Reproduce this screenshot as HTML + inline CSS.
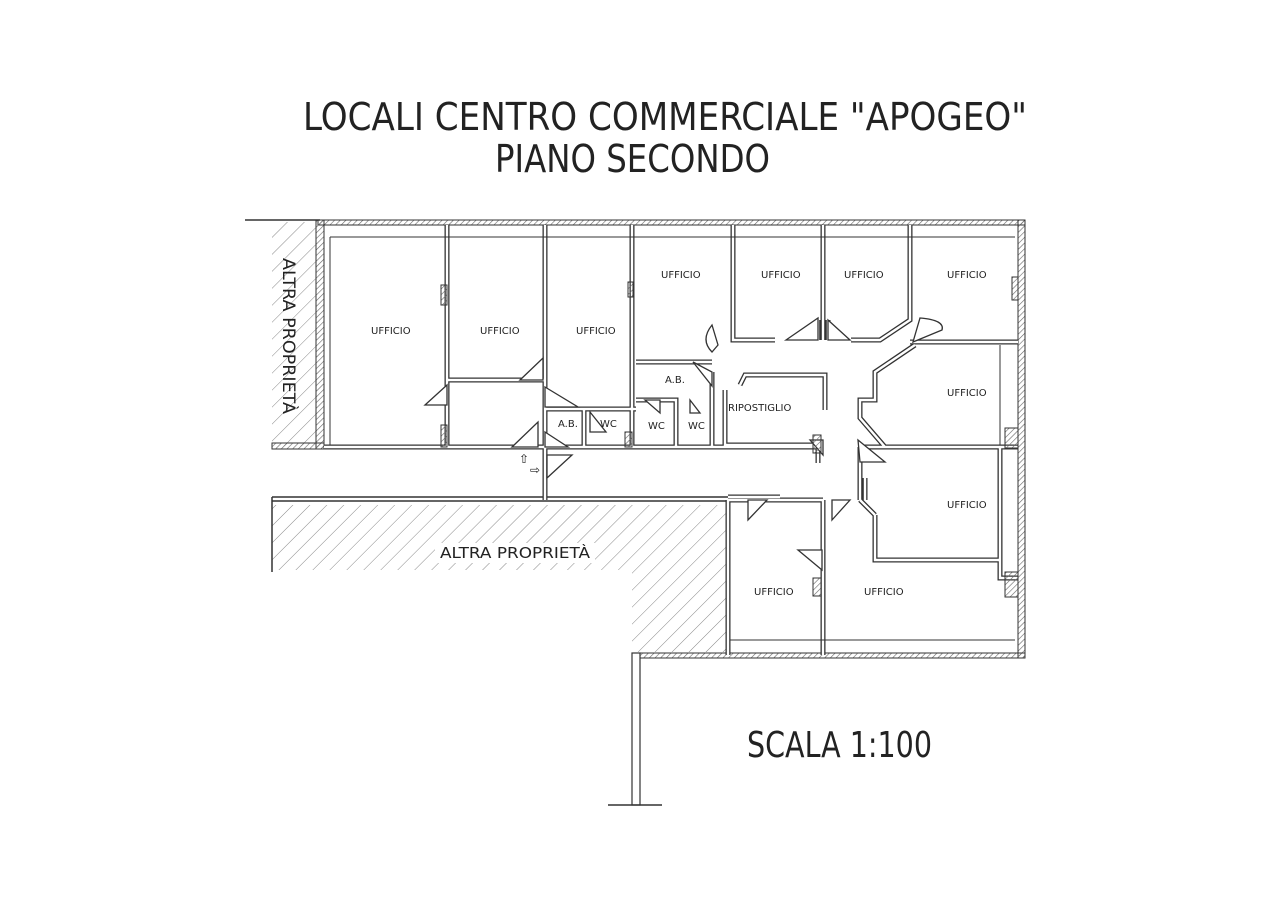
<!DOCTYPE html>
<html><head><meta charset="utf-8"><style>
html,body{margin:0;padding:0;background:#fff;}
svg{display:block;}
text{font-family:"DejaVu Sans","Liberation Sans",sans-serif;fill:#222;}
</style></head><body>
<svg width="1280" height="905" viewBox="0 0 1280 905" xmlns="http://www.w3.org/2000/svg" xmlns:xlink="http://www.w3.org/1999/xlink">
<defs>
<pattern id="h" width="12" height="12" patternUnits="userSpaceOnUse" patternTransform="rotate(45)">
<line x1="0" y1="0" x2="0" y2="12" stroke="#888" stroke-width="1"/></pattern>
<pattern id="hw" width="4" height="4" patternUnits="userSpaceOnUse" patternTransform="rotate(45)">
<line x1="0" y1="0" x2="0" y2="4" stroke="#666" stroke-width="1.2"/></pattern>
<path id="walls" d="M324,447 H545 M447,225 V447 M447,380 H545 M545,225 V447 M545,409 H636 M584,409 V447 M545,447 H636 M632,225 V447 M636,362 H712 M636,447 H822 M636,400 H676 V447 M712,372 V447 M733,225 V340 H775 M823,225 V340 M818,340 V320 M828,340 V320 M851,340 H880 L910,320 V225 M910,342 H1018 M915,345 L875,372 V400 H860 V418 L885,447 H1018 M740,385 L745,375 H825 V410 M725,390 V445 H818 V463 M860,447 V500 M860,447 H1000 M1000,447 V578 H1018 M865,478 V500 M545,447 V500 M728,500 V655 M823,500 V655 M823,500 H728 M728,497 H780 M875,515 V560 H1000 M860,500 L875,515"/>
</defs>
<rect width="1280" height="905" fill="#fff"/>

<text x="303" y="130" font-size="38" textLength="724" lengthAdjust="spacingAndGlyphs">LOCALI CENTRO COMMERCIALE "APOGEO"</text>
<text x="495" y="172" font-size="38" textLength="275" lengthAdjust="spacingAndGlyphs">PIANO SECONDO</text>
<text x="747" y="757" font-size="36" textLength="185" lengthAdjust="spacingAndGlyphs">SCALA 1:100</text>

<rect x="272" y="222" width="44" height="224" fill="url(#h)"/>
<polygon points="272,505 728,505 728,652 632,652 632,570 272,570" fill="url(#h)"/>
<text transform="translate(283,258) rotate(90)" font-size="17" textLength="156" lengthAdjust="spacingAndGlyphs">ALTRA PROPRIETÀ</text>
<rect x="435" y="543" width="160" height="20" fill="#fff"/>
<text x="440" y="558" font-size="15" textLength="150" lengthAdjust="spacingAndGlyphs">ALTRA PROPRIETÀ</text>

<rect x="318" y="220" width="707" height="5" fill="url(#hw)" stroke="#333" stroke-width="1"/>
<rect x="1018" y="220" width="7" height="438" fill="url(#hw)" stroke="#333" stroke-width="1"/>
<rect x="632" y="653" width="393" height="5" fill="url(#hw)" stroke="#333" stroke-width="1"/>
<rect x="316" y="220" width="8" height="229" fill="url(#hw)" stroke="#333" stroke-width="1"/>
<rect x="272" y="443" width="52" height="6" fill="url(#hw)" stroke="#333" stroke-width="1"/>
<rect x="632" y="653" width="8" height="152" fill="#fff" stroke="#333" stroke-width="1.2"/>
<line x1="608" y1="805" x2="662" y2="805" stroke="#333" stroke-width="1.5"/>
<line x1="245" y1="220" x2="320" y2="220" stroke="#333" stroke-width="1.5"/>
<line x1="272" y1="497" x2="728" y2="497" stroke="#333" stroke-width="1.5"/>
<line x1="272" y1="501" x2="728" y2="501" stroke="#333" stroke-width="1.5"/>
<line x1="272" y1="497" x2="272" y2="572" stroke="#333" stroke-width="1.5"/>

<use xlink:href="#walls" href="#walls" fill="none" stroke="#333" stroke-width="5"/>
<use xlink:href="#walls" href="#walls" fill="none" stroke="#fff" stroke-width="2.4"/>

<g stroke="#333" stroke-width="1" fill="none">
<line x1="330" y1="237" x2="1015" y2="237"/>
<line x1="330" y1="237" x2="330" y2="445"/>
<line x1="730" y1="640" x2="1015" y2="640"/>
<line x1="1000" y1="345" x2="1000" y2="445"/>
</g>

<g stroke="#333" stroke-width="1.3" fill="#fff">
<polygon points="425,405 447,385 447,405"/>
<polygon points="520,380 543,358 543,380"/>
<polygon points="545,387 578,407 545,407"/>
<polygon points="512,447 538,422 538,447"/>
<polygon points="545,432 568,447 545,447"/>
<polygon points="547,455 572,455 547,478"/>
<polygon points="590,412 606,432 590,432"/>
<polygon points="645,400 660,413 660,400"/>
<polygon points="690,400 700,413 690,413"/>
<polygon points="693,362 712,386 712,372"/>
<polygon points="786,340 818,318 818,340"/>
<polygon points="828,320 850,340 828,340"/>
<polygon points="810,440 823,455 823,440"/>
<polygon points="858,440 885,462 860,462"/>
<polygon points="748,500 767,500 748,520"/>
<polygon points="798,550 822,550 822,570"/>
<polygon points="832,520 850,500 832,500"/>
<path d="M920,318 Q945,320 942,330 L913,342 Z"/>
<path d="M712,325 Q700,340 712,352 L718,345 Z"/>
</g>

<g fill="url(#hw)" stroke="#333" stroke-width="1">
<rect x="441" y="285" width="6" height="20"/>
<rect x="441" y="425" width="6" height="22"/>
<rect x="628" y="282" width="5" height="15"/>
<rect x="1012" y="277" width="6" height="23"/>
<rect x="1005" y="428" width="13" height="20"/>
<rect x="1005" y="572" width="13" height="25"/>
<rect x="813" y="578" width="8" height="18"/>
<rect x="813" y="435" width="8" height="18"/>
<rect x="625" y="432" width="7" height="15"/>
</g>

<text x="519" y="463" font-size="12">⇧</text>
<text x="530" y="474" font-size="12">⇨</text>

<g font-size="10">
<text x="371" y="334">UFFICIO</text>
<text x="480" y="334">UFFICIO</text>
<text x="576" y="334">UFFICIO</text>
<text x="661" y="278">UFFICIO</text>
<text x="761" y="278">UFFICIO</text>
<text x="844" y="278">UFFICIO</text>
<text x="947" y="278">UFFICIO</text>
<text x="947" y="396">UFFICIO</text>
<text x="947" y="508">UFFICIO</text>
<text x="754" y="595">UFFICIO</text>
<text x="864" y="595">UFFICIO</text>
<text x="665" y="383">A.B.</text>
<text x="558" y="427">A.B.</text>
<text x="600" y="427">WC</text>
<text x="648" y="429">WC</text>
<text x="688" y="429">WC</text>
<text x="728" y="411">RIPOSTIGLIO</text>
</g>
</svg>
</body></html>
